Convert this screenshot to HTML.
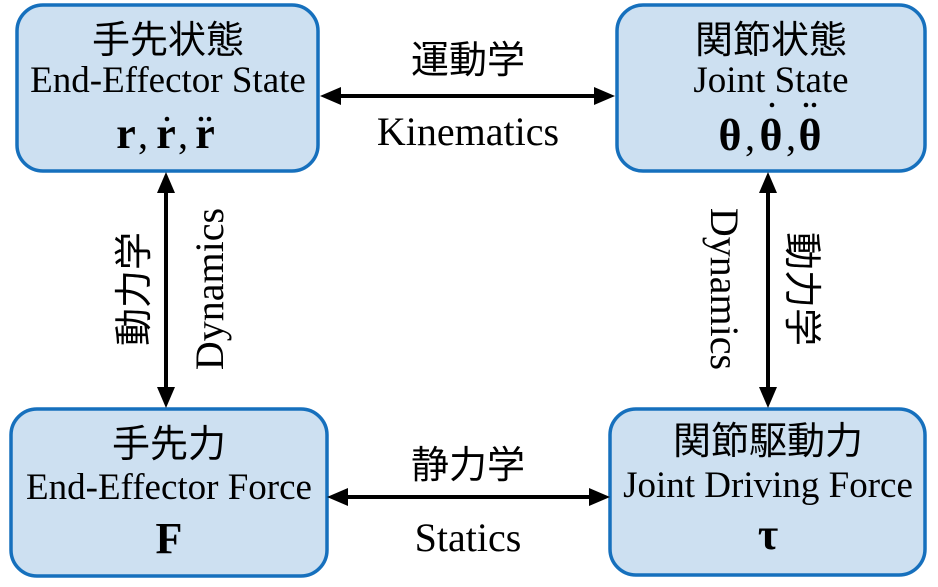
<!DOCTYPE html>
<html><head><meta charset="utf-8"><style>
html,body{margin:0;padding:0;background:#fff;}
svg{display:block;}
.cj{font-family:"Liberation Sans","Noto Sans CJK JP",sans-serif;font-size:38px;fill:#000;}
.en{font-family:"Liberation Serif",serif;font-size:37px;fill:#000;}
.lb{font-family:"Liberation Serif",serif;font-size:40px;fill:#000;}
.m{font-family:"Liberation Serif",serif;font-size:44px;font-weight:bold;fill:#000;}
.c{font-family:"Liberation Serif",serif;font-size:40px;fill:#000;}
</style></head><body>
<svg width="938" height="587" viewBox="0 0 938 587" xmlns="http://www.w3.org/2000/svg">
<g fill="#cde0f1" stroke="#1670bd" stroke-width="3.5">
<rect x="17" y="5" width="301" height="166" rx="26"/>
<rect x="617" y="5" width="308" height="166" rx="26"/>
<rect x="11" y="409" width="316" height="167" rx="26"/>
<rect x="610" y="409" width="315" height="166" rx="26"/>
</g>
<g stroke="#000" stroke-width="4">
<line x1="338" y1="96" x2="597" y2="96"/>
<line x1="345" y1="497" x2="592" y2="497"/>
<line x1="166" y1="190" x2="166" y2="390"/>
<line x1="768" y1="190" x2="768" y2="390"/>
</g>
<g fill="#000">
<polygon points="320,96 341,87 341,105"/>
<polygon points="615,96 594,87 594,105"/>
<polygon points="327,497 348,488 348,506"/>
<polygon points="610,497 589,488 589,506"/>
<polygon points="166,172 157,193 175,193"/>
<polygon points="166,408 157,387 175,387"/>
<polygon points="768,172 759,193 777,193"/>
<polygon points="768,408 759,387 777,387"/>
</g>
<g text-anchor="middle">
<text class="cj" x="168" y="53">手先状態</text>
<text class="en" x="168" y="92">End-Effector State</text>
<text class="m" x="126" y="148">r</text>
<text class="c" x="143" y="148">,</text>
<text class="m" x="166" y="148">r</text>
<text class="c" x="183" y="148">,</text>
<text class="m" x="205" y="148">r</text>
<text class="cj" x="771" y="53">関節状態</text>
<text class="en" x="771" y="92">Joint State</text>
<text class="m" x="730" y="150">θ</text>
<text class="c" x="750" y="150">,</text>
<text class="m" x="771" y="150">θ</text>
<text class="c" x="791" y="150">,</text>
<text class="m" x="810" y="150">θ</text>
<text class="cj" x="169" y="457">手先力</text>
<text class="en" x="169" y="499">End-Effector Force</text>
<text class="m" x="169" y="553">F</text>
<text class="cj" x="768" y="454">関節駆動力</text>
<text class="en" x="768" y="497">Joint Driving Force</text>
<text class="m" x="768" y="549">τ</text>
<text class="cj" x="468" y="73">運動学</text>
<text class="lb" x="468" y="145">Kinematics</text>
<text class="cj" x="468" y="478">静力学</text>
<text class="lb" x="468" y="551">Statics</text>
<text class="cj" transform="translate(147,289) rotate(-90)">動力学</text>
<text class="lb" transform="translate(223,289) rotate(-90)">Dynamics</text>
<text class="lb" transform="translate(711,289) rotate(90)">Dynamics</text>
<text class="cj" transform="translate(789,289) rotate(90)">動力学</text>
</g>
<g fill="#000">
<circle cx="167" cy="119" r="2.3"/>
<circle cx="201" cy="119" r="2.3"/>
<circle cx="209" cy="119" r="2.3"/>
<circle cx="772" cy="105" r="2.3"/>
<circle cx="806" cy="105" r="2.3"/>
<circle cx="814" cy="105" r="2.3"/>
</g>
</svg>
</body></html>
